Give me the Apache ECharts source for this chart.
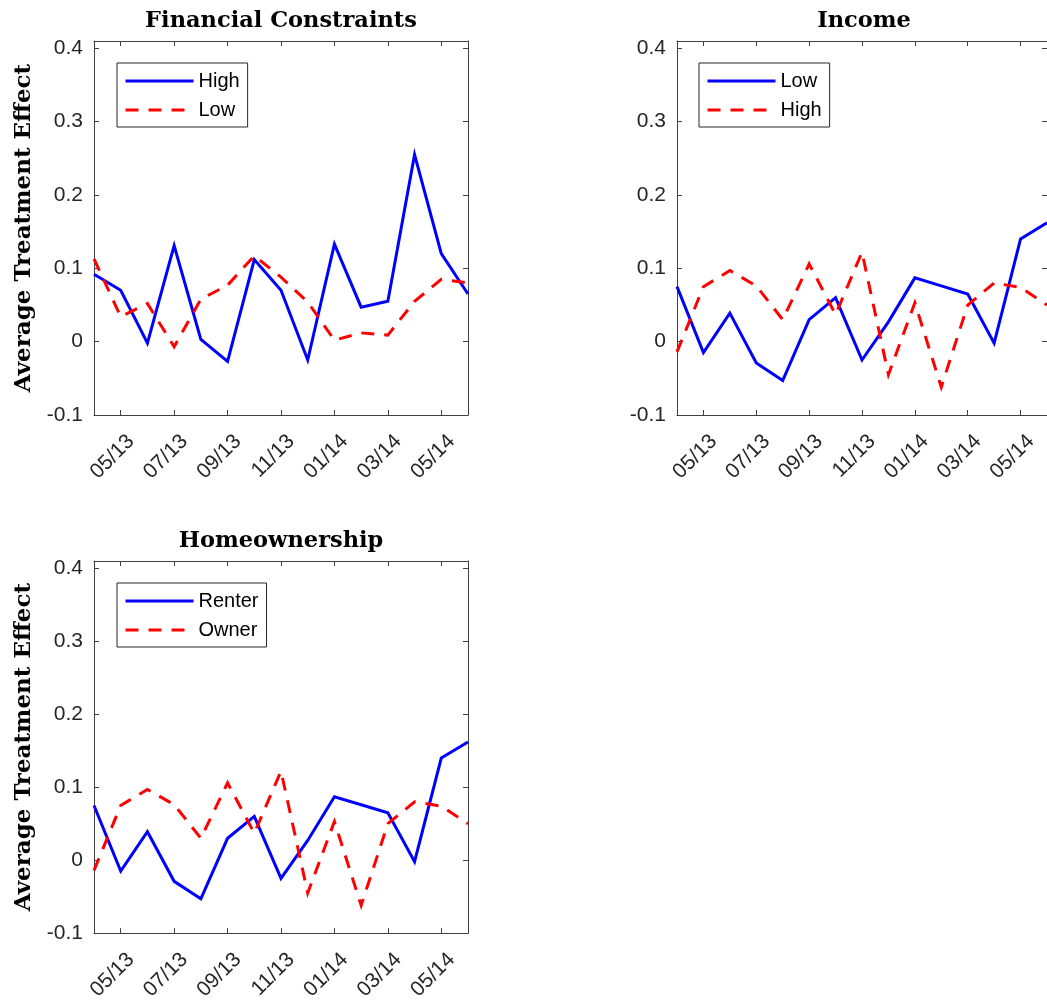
<!DOCTYPE html>
<html>
<head>
<meta charset="utf-8">
<script src="https://cdn.jsdelivr.net/npm/echarts@6/dist/echarts.min.js"></script>
<style>
  html, body { margin: 0; padding: 0; background: #fff; }
  #chart { width: 1047px; height: 1003px; }
</style>
</head>
<body>
<div id="chart"></div>
<script>
// Monthly survey waves, April 2013 to June 2014
const months = ['04/13', '05/13', '06/13', '07/13', '08/13', '09/13', '10/13', '11/13',
                '12/13', '01/14', '02/14', '03/14', '04/14', '05/14', '06/14'];

// Financial constraints
const fcHigh = [0.092, 0.070, -0.002, 0.131, 0.003, -0.027, 0.112, 0.070, -0.025, 0.133, 0.047, 0.055, 0.255, 0.120, 0.065];
const fcLow  = [0.113, 0.034, 0.052, -0.007, 0.058, 0.077, 0.117, 0.088, 0.054, 0.002, 0.012, 0.009, 0.055, 0.085, 0.080];

// Income
const incomeLow  = [0.075, -0.015, 0.039, -0.029, -0.053, 0.030, 0.060, -0.025, 0.027, 0.087, 0.076, 0.065, -0.002, 0.140, 0.162];
const incomeHigh = [-0.014, 0.075, 0.097, 0.076, 0.030, 0.106, 0.037, 0.122, -0.045, 0.053, -0.062, 0.050, 0.080, 0.074, 0.050];

// Homeownership
const renter = [0.075, -0.015, 0.039, -0.029, -0.053, 0.030, 0.060, -0.025, 0.027, 0.087, 0.076, 0.065, -0.002, 0.140, 0.162];
const owner  = [-0.014, 0.075, 0.097, 0.076, 0.030, 0.106, 0.037, 0.122, -0.045, 0.053, -0.062, 0.050, 0.080, 0.074, 0.050];

// Value axis range and step
const yMin = -0.1;
const yMax = 0.41;
const yStep = 0.1;

const BLUE = '#0000ff';
const RED = '#ff0000';
const AXIS = '#404040';
const SANS = '"Liberation Sans", Arial, Helvetica, sans-serif';
const SERIF = '"DejaVu Serif", "Liberation Serif", serif';
const DASH = [13, 10];

const panels = [
  { title: 'Financial Constraints', left: 94, top: 41, yName: true,
    legend: { left: 117, top: 63 },
    lines: [{ key: 'fc', label: 'High', data: fcHigh, color: BLUE, dashed: false },
            { key: 'fc', label: 'Low', data: fcLow, color: RED, dashed: true }] },
  { title: 'Income', left: 677, top: 41, yName: false,
    legend: { left: 699, top: 63 },
    lines: [{ key: 'inc', label: 'Low', data: incomeLow, color: BLUE, dashed: false },
            { key: 'inc', label: 'High', data: incomeHigh, color: RED, dashed: true }] },
  { title: 'Homeownership', left: 94, top: 561, yName: true,
    legend: { left: 117, top: 583 },
    lines: [{ key: 'home', label: 'Renter', data: renter, color: BLUE, dashed: false },
            { key: 'home', label: 'Owner', data: owner, color: RED, dashed: true }] }
];

const SIZE = 374;
const everyOther = (i) => i % 2 === 1;

const option = {
  animation: false,
  backgroundColor: '#fff',
  title: [], grid: [], xAxis: [], yAxis: [], legend: [], series: []
};

function fmtTick(v) {
  const k = Math.round(v / yStep);
  if (Math.abs(v - k * yStep) > 1e-6) return '';
  const r = Math.round(v * 10) / 10;
  return r === 0 ? '0' : String(r);
}

panels.forEach((p, gi) => {
  option.title.push({
    text: p.title,
    left: p.left + SIZE / 2,
    top: p.top - 31,
    textAlign: 'center',
    padding: 0,
    textStyle: { fontFamily: SERIF, fontWeight: 'bold', fontSize: 22.5, color: '#000' }
  });

  option.grid.push({
    left: p.left, top: p.top, width: SIZE, height: SIZE,
    show: false, containLabel: false
  });

  // bottom axis with labels
  option.xAxis.push({
    type: 'category', gridIndex: gi, data: months, boundaryGap: false, position: 'bottom',
    axisLine: { show: true, onZero: false, lineStyle: { color: AXIS, width: 1 } },
    axisTick: { show: true, inside: true, length: 5, interval: everyOther, lineStyle: { color: AXIS } },
    axisLabel: {
      show: true, interval: everyOther, rotate: 45, margin: 3,
      verticalAlign: 'top', align: 'right', padding: [11, 7, 0, 0],
      fontFamily: SANS, fontSize: 21, color: '#262626'
    },
    splitLine: { show: false }
  });
  // top frame with mirrored ticks
  option.xAxis.push({
    type: 'category', gridIndex: gi, data: months, boundaryGap: false, position: 'top',
    axisLine: { show: true, onZero: false, lineStyle: { color: AXIS, width: 1 } },
    axisTick: { show: true, inside: true, length: 5, interval: everyOther, lineStyle: { color: AXIS } },
    axisLabel: { show: false },
    splitLine: { show: false }
  });

  option.yAxis.push({
    type: 'value', gridIndex: gi, min: yMin, max: yMax, interval: yStep, position: 'left',
    name: p.yName ? 'Average Treatment Effect' : '',
    nameLocation: 'middle', nameRotate: 90, nameGap: 58,
    nameTextStyle: { fontFamily: SERIF, fontWeight: 'bold', fontSize: 23, color: '#000' },
    axisLine: { show: true, onZero: false, lineStyle: { color: AXIS, width: 1 } },
    axisTick: { show: true, inside: true, length: 5, lineStyle: { color: AXIS } },
    axisLabel: { show: true, margin: 11, formatter: fmtTick, fontFamily: SANS, fontSize: 21, color: '#262626' },
    splitLine: { show: false }
  });
  option.yAxis.push({
    type: 'value', gridIndex: gi, min: yMin, max: yMax, interval: yStep, position: 'right',
    axisLine: { show: true, onZero: false, lineStyle: { color: AXIS, width: 1 } },
    axisTick: { show: true, inside: true, length: 5, lineStyle: { color: AXIS } },
    axisLabel: { show: false },
    splitLine: { show: false }
  });

  const names = [];
  p.lines.forEach((ln) => {
    const name = ln.key + '|' + ln.label;
    names.push(name);
    option.series.push({
      type: 'line', name: name,
      xAxisIndex: gi * 2, yAxisIndex: gi * 2,
      data: ln.data, symbol: 'none', smooth: false, clip: true,
      lineStyle: { color: ln.color, width: 3, type: ln.dashed ? DASH : 'solid', join: 'miter', cap: 'butt' },
      itemStyle: { color: ln.color, opacity: 0 },
      emphasis: { disabled: true }
    });
  });

  option.legend.push({
    data: names, orient: 'vertical', left: p.legend.left, top: p.legend.top,
    formatter: (n) => n.split('|')[1],
    itemWidth: 68, itemHeight: 20, itemGap: 9,
    padding: [8, 8, 7, 7],
    itemStyle: { opacity: 0 },
    lineStyle: { width: 3 },
    backgroundColor: '#fff', borderColor: '#262626', borderWidth: 1, borderRadius: 0,
    selectedMode: false,
    textStyle: { fontFamily: SANS, fontSize: 20, lineHeight: 20, color: '#000' }
  });
});

const chart = echarts.init(document.getElementById('chart'), null, { renderer: 'canvas' });
chart.setOption(option);
</script>
</body>
</html>
